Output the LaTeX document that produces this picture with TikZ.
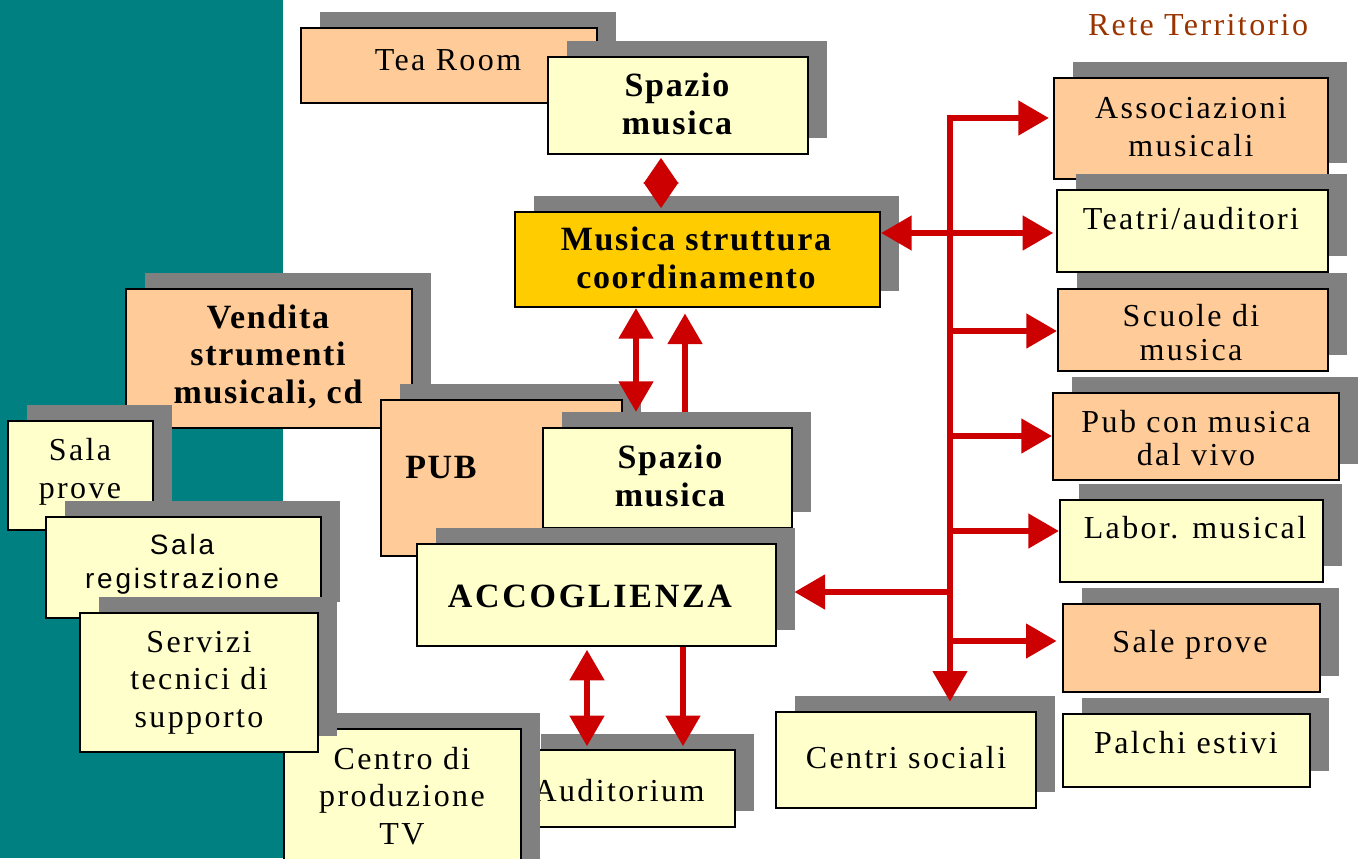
\documentclass[tikz,border=0pt]{standalone}
\usepackage{fontspec}
\setmainfont{Liberation Serif}
\newfontfamily\lsf[LetterSpace=7.5]{Liberation Serif}
\newfontfamily\lsb[LetterSpace=5]{Liberation Serif}
\newfontfamily\lss[LetterSpace=10]{Liberation Sans}
\usetikzlibrary{arrows.meta,shadows}
\definecolor{teal0}{HTML}{008080}
\definecolor{peach}{HTML}{FFCC99}
\definecolor{lightyel}{HTML}{FFFFCC}
\definecolor{gold0}{HTML}{FFCC00}
\definecolor{shadowgray}{HTML}{808080}
\definecolor{linkred}{HTML}{CC0000}
\definecolor{titlebrown}{HTML}{993300}
\tikzset{
  box/.style={draw=black, line width=1.5pt, rectangle, inner sep=0pt,
    general shadow={fill=shadowgray, shadow xshift=14.25pt, shadow yshift=12pt}},
  pbox/.style={box, fill=peach},
  ybox/.style={box, fill=lightyel},
  gbox/.style={box, fill=gold0},
  txt/.style={inner sep=0pt, anchor=base, align=center, font=\lsf\fontsize{24}{28}\selectfont},
  btxt/.style={inner sep=0pt, anchor=base, align=center, font=\lsb\bfseries\fontsize{25.5}{28}\selectfont},
  stxt/.style={inner sep=0pt, anchor=base, align=center, font=\lss\fontsize{21}{25}\selectfont},
  link/.style={draw=linkred, line width=5pt,
    >={Triangle[length=23pt,width=25pt]}},
  dlink/.style={draw=linkred, line width=5pt,
    >={Triangle[length=19.5pt,width=25pt]}},
}
\newcommand\bx[6]{\node[#1, minimum width={(#5-#3)*0.75pt}, minimum height={(#6-#4)*0.75pt}] (#2) at ({(#3+#5)/2},{(#4+#6)/2}) {};}
\begin{document}
\begin{tikzpicture}[x=0.75pt,y=-0.75pt]
\useasboundingbox (0,0) rectangle (1361,858);
\fill[teal0] (0,0) rectangle (283,858);

% top group
\bx{pbox}{tea}{301}{28}{597}{103}
\node[txt] (ttea) at (448,70) {Tea Room};
\bx{ybox}{spaz1}{548}{57}{808}{154}
\node[btxt] (tspaz1) at (677,134) {Spazio\\musica};
\bx{gbox}{musica}{515}{212}{880}{307}
\node[btxt] (tmusica) at (696,288) {Musica struttura\\coordinamento};

% left group
\bx{pbox}{vendita}{126}{289}{412}{428}
\node[btxt] (tvendita) at (268,403) {Vendita\\strumenti\\musicali, cd};
\bx{ybox}{salap}{8}{421}{153}{530}
\node[txt] (tsalap) at (80,498) {Sala\\prove};
\bx{pbox}{pub}{381}{400}{622}{556}
\node[btxt, anchor=base west] (tpub) at (405,478) {PUB};
\bx{ybox}{spaz2}{543}{428}{792}{528}
\node[btxt] (tspaz2) at (670,506) {Spazio\\musica};
\bx{ybox}{accog}{417}{544}{776}{646}
\node[btxt, font=\lsb\bfseries\fontsize{25.5}{28}\selectfont\addfontfeature{LetterSpace=8}] (taccog) at (590,607) {ACCOGLIENZA};
\bx{ybox}{salar}{46}{517}{321}{618}
\node[stxt] (tsalar) at (182,588) {Sala\\registrazione};
\bx{ybox}{audit}{522}{750}{735}{827}
\node[txt] (taudit) at (619,801) {Auditorium};
\bx{ybox}{centro}{284}{729}{521}{880}
\node[txt] (tcentro) at (402,844) {Centro di\\produzione\\TV};
\bx{ybox}{servizi}{80}{613}{318}{752}
\node[txt] (tservizi) at (199,727) {Servizi\\tecnici di\\supporto};

% right column
\node[txt, text=titlebrown] (title) at (1198,35) {Rete Territorio};
\bx{pbox}{assoc}{1054}{78}{1328}{179}
\node[txt] (tassoc) at (1191,156) {Associazioni\\musicali};
\bx{ybox}{teatri}{1057}{190}{1328}{272}
\node[txt] (tteatri) at (1191,229) {Teatri/auditori};
\bx{pbox}{scuole}{1058}{289}{1328}{371}
\node[txt, font=\lsf\fontsize{24}{25}\selectfont] (tscuole) at (1191,360) {Scuole di\\musica};
\bx{pbox}{pubm}{1053}{393}{1339}{480}
\node[txt, font=\lsf\fontsize{24}{24.5}\selectfont] (tpubm) at (1196,465) {Pub con musica\\dal vivo};
\bx{ybox}{labor}{1060}{500}{1323}{582}
\node[txt] (tlabor) at (1195,538) {Labor. musical};
\bx{pbox}{salep}{1063}{604}{1320}{692}
\node[txt] (tsalep) at (1190,652) {Sale prove};
\bx{ybox}{palchi}{1063}{714}{1310}{787}
\node[txt] (tpalchi) at (1186,753) {Palchi estivi};
\bx{ybox}{centri}{776}{712}{1036}{808}
\node[txt] (tcentri) at (906,768) {Centri sociali};

% connectors
\coordinate (xd) at (661,0);
\coordinate (pa) at (636,412);
\coordinate (pb) at (685,412);
\coordinate (tr) at (950,118);
\coordinate (yt) at (0,233);
\coordinate (ys) at (0,331);
\coordinate (yp) at (0,436);
\coordinate (yl) at (0,531);
\coordinate (ya) at (0,592);
\coordinate (ysp) at (0,641);
\coordinate (xb1) at (587,0);
\coordinate (xb2) at (683,0);

\draw[dlink,<->] ([yshift=-2pt]spaz1.south -| xd) -- ([yshift=2pt]musica.north -| xd);
\draw[link,<->] (musica.south -| pa) -- (pa);
\draw[link,->] (pb) -- ([yshift=-4pt]musica.south -| pb);
\draw[link,<->] (musica.east |- yt) -- ([xshift=-2pt]teatri.west |- yt);
\draw[link,<->, line join=miter] ([xshift=-3pt]assoc.west |- tr) -- (tr) -- ([yshift=7pt]centri.north -| tr);
\draw[link,->] (tr |- ys) -- (scuole.west |- ys);
\draw[link,->] (tr |- yp) -- (pubm.west |- yp);
\draw[link,->] (tr |- yl) -- (labor.west |- yl);
\draw[link,->] (tr |- ysp) -- ([xshift=-4pt]salep.west |- ysp);
\draw[link,->] (tr |- ya) -- ([xshift=13pt]accog.east |- ya);
\draw[link,<->] ([yshift=-2pt]accog.south -| xb1) -- ([yshift=2pt]audit.north -| xb1);
\draw[link,->] (accog.south -| xb2) -- ([yshift=2pt]audit.north -| xb2);
\end{tikzpicture}
\end{document}
